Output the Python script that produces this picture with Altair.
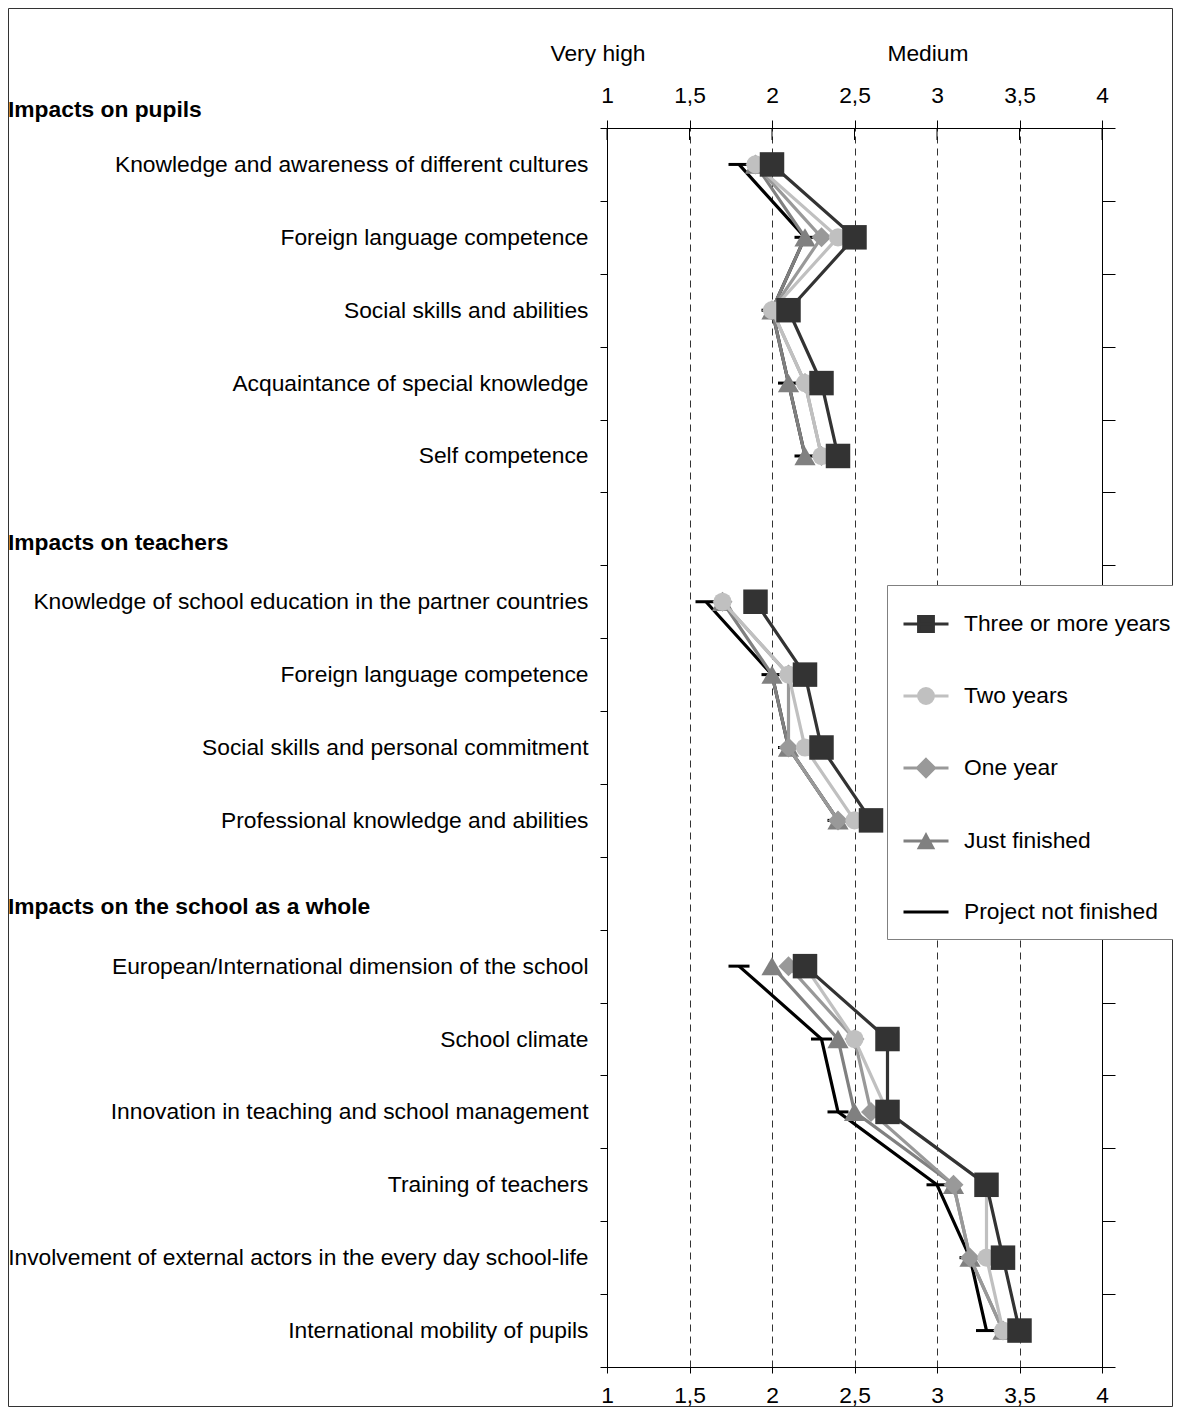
import altair as alt
import pandas as pd

# ---------------- data ----------------
row_labels = [
    "Knowledge and awareness of different cultures",
    "Foreign language competence",
    "Social skills and abilities",
    "Acquaintance of special knowledge",
    "Self competence",
    "",
    "Knowledge of school education in the partner countries",
    "Foreign language competence",
    "Social skills and personal commitment",
    "Professional knowledge and abilities",
    "",
    "European/International dimension of the school",
    "School climate",
    "Innovation in teaching and school management",
    "Training of teachers",
    "Involvement of external actors in the every day school-life",
    "International mobility of pupils",
]
item_rows = [0, 1, 2, 3, 4, 6, 7, 8, 9, 11, 12, 13, 14, 15, 16]
item_groups = ["pupils"] * 5 + ["teachers"] * 4 + ["school"] * 6

group_headers = ["Impacts on teachers", "Impacts on the school as a whole"]
group_header_rows = [5, 10]
first_header = "Impacts on pupils"

series = ["Three or more years", "Two years", "One year", "Just finished", "Project not finished"]
three_or_more = [2.0, 2.5, 2.1, 2.3, 2.4, 1.9, 2.2, 2.3, 2.6, 2.2, 2.7, 2.7, 3.3, 3.4, 3.5]
two_years = [1.9, 2.4, 2.0, 2.2, 2.3, 1.7, 2.1, 2.2, 2.5, 2.2, 2.5, 2.7, 3.3, 3.3, 3.4]
one_year = [1.9, 2.3, 2.0, 2.2, 2.3, 1.7, 2.1, 2.1, 2.4, 2.1, 2.5, 2.6, 3.1, 3.2, 3.4]
just_finished = [1.9, 2.2, 2.0, 2.1, 2.2, 1.7, 2.0, 2.1, 2.4, 2.0, 2.4, 2.5, 3.1, 3.2, 3.4]
not_finished = [1.8, 2.2, 2.0, 2.1, 2.2, 1.6, 2.0, 2.1, 2.4, 1.8, 2.3, 2.4, 3.0, 3.2, 3.3]
series_values = [three_or_more, two_years, one_year, just_finished, not_finished]

x_ticks = [1, 1.5, 2, 2.5, 3, 3.5, 4]
scale_words = ["Very high", "Medium"]
scale_word_values = [1, 3]

# ---------------- styles ----------------
FONT = "Liberation Sans"
FS = 22.8
colors = ["#333333", "#c0c0c0", "#999999", "#808080", "#000000"]
shapes = ["square", "circle", "diamond", "triangle-up", "M-1,0H1"]
sizes = [600, 330, 400, 450, 441]
legend_paths = [
    "M-1,0H1M-0.33,-0.33H0.33V0.33H-0.33Z",
    "M-1,0H1M-0.33,0A0.33,0.33 0 1,0 0.33,0A0.33,0.33 0 1,0 -0.33,0Z",
    "M-1,0H1M0,-0.38L0.38,0L0,0.38L-0.38,0Z",
    "M-1,0H1M0,-0.26L0.3,0.3L-0.3,0.3Z",
    "M-1,0H1",
]

records = []
for s, vals in zip(series, series_values):
    for r, g, v in zip(item_rows, item_groups, vals):
        records.append({"series": s, "row": r, "grp": g, "value": v})
df = pd.DataFrame(records)

W, H = 495, 1239
PAD = {"left": 599, "top": 120, "right": 71, "bottom": 40}
xscale = alt.Scale(domain=[1, 4], nice=False, zero=False)
yscale = alt.Scale(type="band", domain=list(range(len(row_labels))), paddingInner=0, paddingOuter=0)

label_array = "[" + ",".join("'" + l + "'" for l in row_labels) + "]"

X = lambda axis=None: alt.X("value:Q", scale=xscale, axis=axis)
Y = lambda axis=None: alt.Y("row:O", scale=yscale, axis=axis)

# axes carriers
ax_top_left = alt.Chart(df).mark_point(opacity=0).encode(
    x=X(alt.Axis(orient="top", values=x_ticks, format="~g", labelFlush=False,
                 labelExpr="replace(datum.label, '.', ',')",
                 tickSize=8, labelPadding=13, title=None, grid=False)),
    y=Y(alt.Axis(orient="left", tickBand="extent", tickSize=7, labelPadding=12,
                 labelExpr=label_array + "[datum.value]", labelLimit=800,
                 title=None, grid=False)),
)
ax_bottom_right = alt.Chart(df).mark_point(opacity=0).encode(
    x=X(alt.Axis(orient="bottom", values=x_ticks, format="~g", labelFlush=False,
                 labelExpr="replace(datum.label, '.', ',')",
                 tickSize=6, labelPadding=11, title=None, grid=True,
                 gridDash=[7, 5], gridColor="#333333", gridWidth=1, gridOpacity=1)),
    y=Y(alt.Axis(orient="right", tickBand="extent", tickSize=13, labels=False,
                 title=None, grid=False)),
)

# inward part of crossing tick marks on the top axis
tick_df = pd.DataFrame({"value": x_ticks})
inner_ticks = alt.Chart(tick_df).mark_rule(color="black", strokeWidth=1).encode(
    x=X(), y=alt.value(0), y2=alt.value(12)
)

# outer frame
frame = alt.Chart(alt.Data(values=[{}])).mark_rect(
    fillOpacity=0, stroke="#333333", strokeWidth=1
).encode(
    x=alt.value(-PAD["left"] + 0.5), x2=alt.value(W + PAD["right"] - 0.5),
    y=alt.value(-PAD["top"] + 0.5), y2=alt.value(H + PAD["bottom"] - 0.5),
)

# series layers (bottom to top)
series_layers = []
for s, c, sh, sz in reversed(list(zip(series, colors, shapes, sizes))):
    base = alt.Chart(df).transform_filter(alt.datum.series == s)
    line = base.mark_line(color=c, strokeWidth=3.2).encode(
        x=X(), y=Y(), detail="grp:N", order=alt.Order("row:Q")
    )
    if sh.startswith("M"):
        pts = base.mark_point(shape=sh, size=sz, filled=False, color=c, strokeWidth=3, opacity=1)
    else:
        pts = base.mark_point(shape=sh, size=sz, filled=True, color=c, opacity=1, strokeWidth=0)
    series_layers += [line, pts.encode(x=X(), y=Y())]

# legend carrier (no marks)
leg = alt.Legend(
    orient="none", legendX=280, legendY=457, title=None,
    fillColor="white", strokeColor="#808080", padding=15,
    symbolSize=2025, symbolStrokeWidth=3, symbolOpacity=1, labelFont=FONT, labelFontSize=FS,
    labelColor="black", labelOffset=14, rowPadding=34, labelLimit=400,
)
legend_layer = alt.Chart(df).transform_filter("datum.row < 0").mark_point(filled=True, opacity=1).encode(
    x=X(), y=Y(),
    fill=alt.Fill("series:N", scale=alt.Scale(domain=series, range=colors), legend=leg),
    stroke=alt.Stroke("series:N", scale=alt.Scale(domain=series, range=colors), legend=leg),
    shape=alt.Shape("series:N", scale=alt.Scale(domain=series, range=legend_paths), legend=leg),
)

# group headers
hdr_df = pd.DataFrame({"text": group_headers, "row": group_header_rows})
headers = alt.Chart(hdr_df).mark_text(
    align="left", baseline="middle", font=FONT, fontSize=FS, fontWeight="bold", dy=14, color="black"
).encode(x=alt.value(-599), y=Y(), text="text:N")
first_hdr = alt.Chart(alt.Data(values=[{"text": first_header}])).mark_text(
    align="left", baseline="middle", font=FONT, fontSize=FS, fontWeight="bold", color="black"
).encode(x=alt.value(-599), y=alt.value(-18), text="text:N")

# scale words above the top axis
sw_df = pd.DataFrame({"value": scale_word_values, "text": scale_words})
scale_text = alt.Chart(sw_df).mark_text(
    align="center", baseline="middle", font=FONT, fontSize=FS, dx=-9, color="black"
).encode(x=X(), y=alt.value(-74), text="text:N")

chart = alt.layer(
    frame, ax_top_left, ax_bottom_right, *series_layers, legend_layer,
    inner_ticks, headers, first_hdr, scale_text
).resolve_axis(x="independent", y="independent").properties(
    width=W, height=H,
    autosize=alt.AutoSizeParams(type="none"),
    padding=PAD,
).configure(font=FONT).configure_view(stroke="black", strokeWidth=1).configure_axis(
    domainColor="black", tickColor="black", labelColor="black",
    labelFont=FONT, labelFontSize=FS, domainWidth=1, tickWidth=1,
)

chart.save("out.html", embed_options={"renderer": "svg", "actions": False})
